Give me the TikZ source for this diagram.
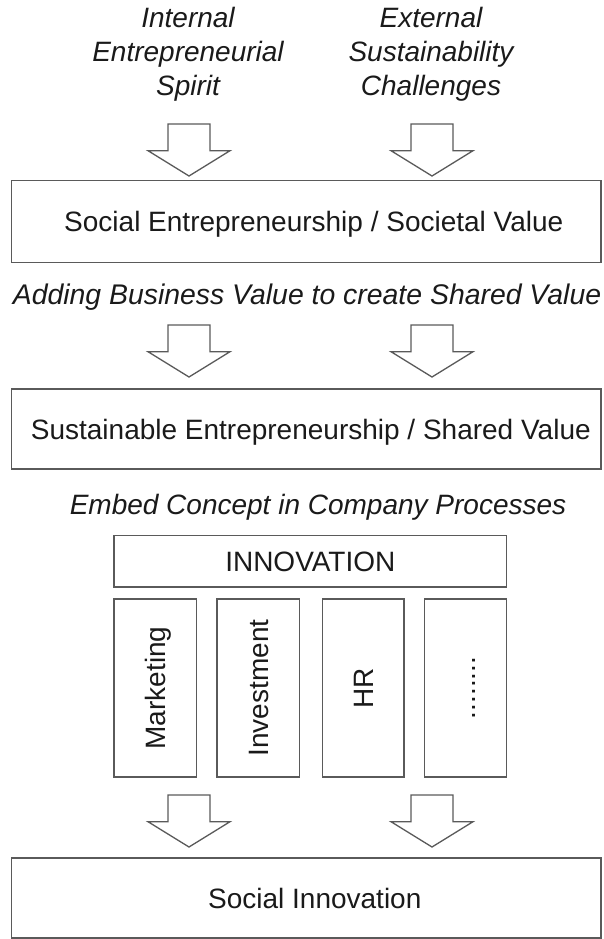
\documentclass[tikz,border=0pt]{standalone}
\usepackage{fontspec}
\setmainfont{Liberation Sans}
\definecolor{linegray}{HTML}{5A5A5A}
\definecolor{inkdark}{HTML}{1A1A1A}
\begin{document}
\begin{tikzpicture}[x=1pt,y=-1pt,
  ittxt/.style={font=\fontsize{28}{34}\selectfont\itshape, text=inkdark, anchor=base, inner sep=0pt},
  stagebox/.style={draw=linegray, line width=1.3pt, rectangle, inner sep=0pt,
     text height=20pt, text depth=0pt, font=\fontsize{28}{34}\selectfont, text=inkdark},
  arrowline/.style={draw=linegray, line width=1.3pt, fill=white},
  pics/blockarrow/.style={code={
     \draw[arrowline] (-21,0) -- (21,0) -- (21,26.7) -- (41,26.7) -- (0,52)
        -- (-41,26.7) -- (-21,26.7) -- cycle;}}
]
\useasboundingbox (0,0) rectangle (604,939);

% top inputs
\node[ittxt] (inA) at (188,28) {Internal};
\node[ittxt] (inB) at (188,62) {Entrepreneurial};
\node[ittxt] (inC) at (188,96) {Spirit};
\node[ittxt] (exA) at (431,28) {External};
\node[ittxt] (exB) at (431,62) {Sustainability};
\node[ittxt] (exC) at (431,96) {Challenges};

\pic (arA) at (189,124) {blockarrow};
\pic (arB) at (432,124) {blockarrow};

\node[stagebox, minimum width=589.3, minimum height=82] (social) at (306.3,221.7)
   {\hspace*{15pt}Social Entrepreneurship / Societal Value};

\node[ittxt, font=\fontsize{28.4}{34}\selectfont\itshape] (adding) at (307,304) {Adding Business Value to create Shared Value};

\pic (arC) at (189,325) {blockarrow};
\pic (arD) at (432,325) {blockarrow};

\node[stagebox, minimum width=589.3, minimum height=80] (sustain) at (306.3,429)
   {\hspace*{9pt}Sustainable Entrepreneurship / Shared Value};

\node[ittxt] (embed) at (318,514) {Embed Concept in Company Processes};

\node[stagebox, minimum width=392.7, minimum height=51.3] (innov) at (310.3,561.3) {INNOVATION};

\node[stagebox, rotate=90, minimum width=178, minimum height=82.7] (mkt) at (155.3,688) {Marketing};
\node[stagebox, rotate=90, minimum width=178, minimum height=82.3] (inv) at (258.2,688) {Investment};
\node[stagebox, rotate=90, minimum width=178, minimum height=81.3] (hr) at (363.3,688) {HR};
\node[stagebox, rotate=90, minimum width=178, minimum height=82] (more) at (465.7,688) {........};

\pic (arE) at (189,795) {blockarrow};
\pic (arF) at (432,795) {blockarrow};

\node[stagebox, minimum width=589.3, minimum height=80] (socinn) at (306.3,898)
   {\hspace*{17pt}Social Innovation};
\end{tikzpicture}
\end{document}
